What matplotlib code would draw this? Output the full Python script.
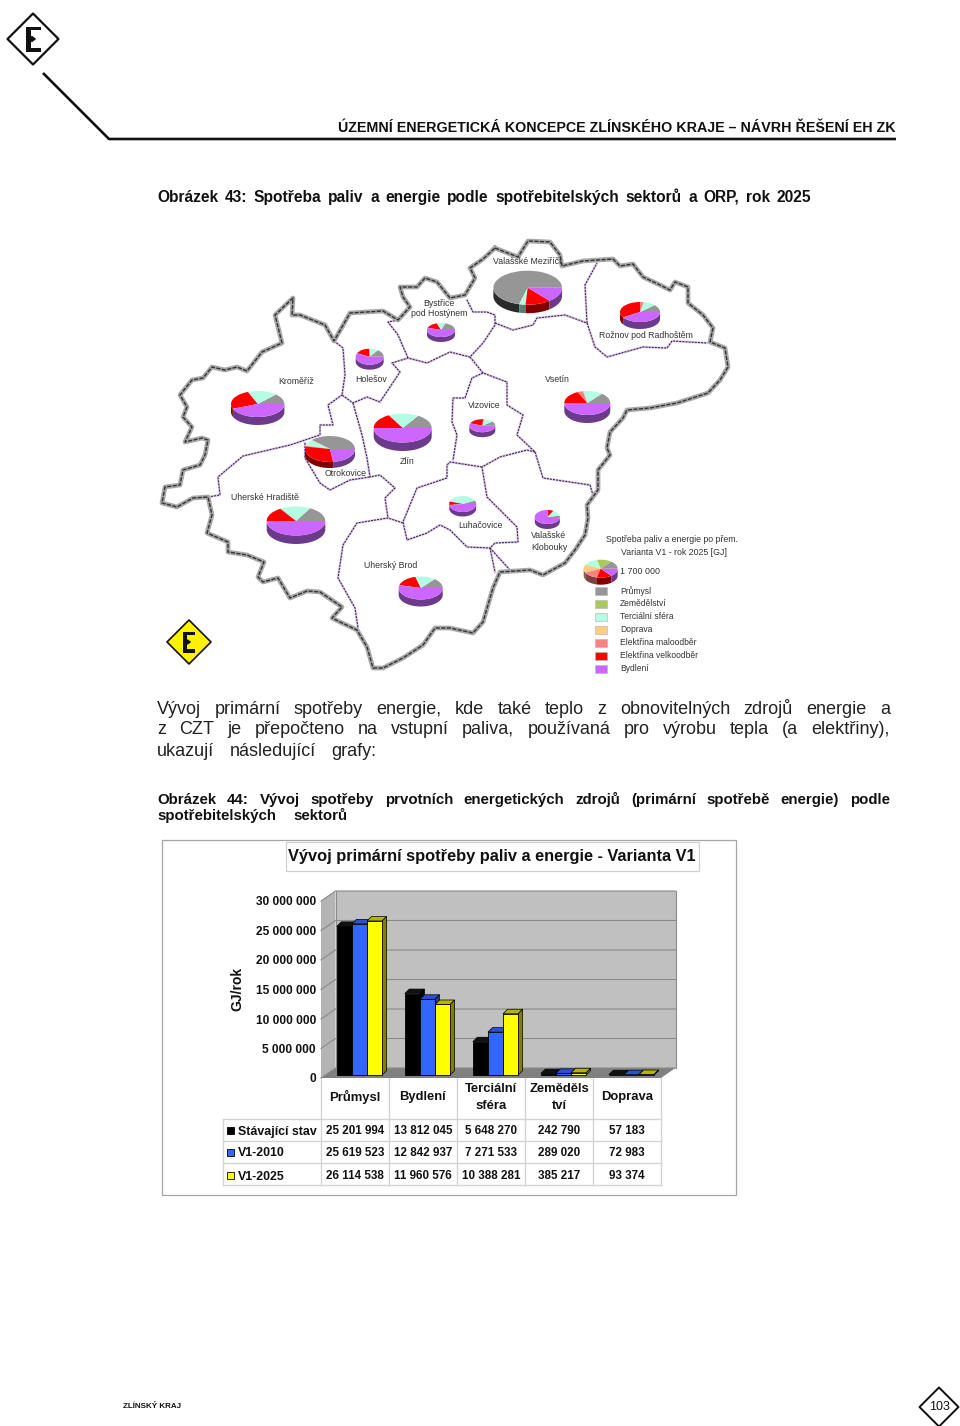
"""Strana 103 - mapa spotřeby a graf primární spotřeby, Varianta V1."""
import matplotlib
matplotlib.use("Agg")
import matplotlib.pyplot as plt
import matplotlib.patches as mpatches
from matplotlib.transforms import Affine2D
import numpy as np

plt.rcParams["font.family"] = ["Liberation Sans", "DejaVu Sans"]

# ---- data grafu
CATS = ["Průmysl", "Bydlení", "Terciální\nsféra", "Zeměděls\ntví", "Doprava"]
SERIES = ["Stávající stav", "V1-2010", "V1-2025"]
STAV = [25201994, 13812045, 5648270, 242790, 57183]
V2010 = [25619523, 12842937, 7271533, 289020, 72983]
V2025 = [26114538, 11960576, 10388281, 385217, 93374]
YTICKS = [0, 5000000, 10000000, 15000000, 20000000, 25000000, 30000000]
FRONT = ["#000000", "#3366FF", "#FFFF00"]
SIDE = ["#000000", "#1F3D99", "#808000"]
TOP = ["#111111", "#2A52CC", "#B5B500"]

# ---- data mapy: podíly v pořadí legendy
FUELS = ["Průmysl", "Zemědělství", "Terciální sféra", "Doprava",
         "Elektřina maloodběr", "Elektřina velkoodběr", "Bydlení"]
FUEL_COL = ["#969696", "#A9C95A", "#B4FCE4", "#FFCC80", "#FF8080", "#FF0000", "#CC66FF"]
FUEL_DARK = ["#2A2A2A", "#55652D", "#5A7E72", "#806640", "#804040", "#800000", "#6B3A8B"]
PIE_VM = [.71, 0, .03, 0, 0, .12, .14]
PIE_ROZNOV = [.12, 0, .10, 0, .03, .34, .41]
PIE_BYSTRICE = [.20, 0, .10, 0, 0, .15, .55]
PIE_HOLESOV = [.15, 0, .10, 0, .01, .17, .57]
PIE_KROMERIZ = [.13, 0, .18, 0, 0, .25, .44]
PIE_ZLIN = [.16, 0, .17, 0, 0, .17, .50]
PIE_VSETIN = [.14, 0, .14, 0, .04, .18, .50]
PIE_VIZOVICE = [.11, 0, .12, 0, .01, .20, .56]
PIE_OTROKOVICE = [.38, 0, .08, 0, .01, .30, .23]
PIE_UH = [.17, 0, .17, 0, 0, .16, .50]
PIE_LUHACOVICE = [.07, 0, .38, 0, 0, .07, .48]
PIE_KLOBOUKY = [.03, 0, .14, 0, 0, .07, .76]
PIE_UB = [.14, 0, .15, 0, 0, .17, .54]
PIE_LEG = [1, 1, 1, 1, 1, 1, 1]

OUTER = [(495, 248), (505, 252), (518, 257), (528, 241), (550, 242), (560, 255), (562, 266),
         (583, 261), (613, 259), (620, 266), (633, 264), (643, 277), (660, 285), (670, 290),
         (675, 282), (688, 287), (688, 303), (703, 315), (713, 328), (710, 342), (725, 348),
         (728, 367), (720, 380), (708, 393), (677, 403), (650, 408), (627, 410), (623, 418),
         (610, 432), (607, 448), (610, 455), (598, 470), (598, 490), (587, 505), (588, 518),
         (585, 535), (575, 550), (565, 563), (543, 575), (530, 570), (500, 572), (493, 588),
         (483, 622), (473, 633), (450, 628), (435, 628), (423, 645), (403, 658), (383, 668),
         (373, 668), (367, 647), (357, 630), (340, 622), (332, 618), (342, 607), (320, 592),
         (307, 591), (290, 598), (278, 578), (263, 582), (258, 577), (264, 562), (247, 555),
         (228, 552), (228, 542), (207, 533), (212, 515), (208, 497), (193, 498), (177, 507),
         (162, 503), (165, 487), (180, 485), (183, 470), (200, 465), (205, 455), (208, 440),
         (202, 438), (185, 442), (192, 427), (183, 417), (187, 407), (180, 395), (192, 380),
         (203, 378), (212, 367), (225, 370), (237, 367), (247, 371), (262, 352), (282, 343),
         (275, 315), (293, 298), (292, 315), (300, 315), (325, 325), (334, 341), (350, 313),
         (383, 311), (398, 320), (410, 307), (403, 297), (400, 287), (417, 287), (425, 278),
         (437, 282), (450, 298), (465, 295), (475, 278), (470, 268), (483, 259), (495, 248)]
INNER = [
    [(334, 341), (343, 348), (345, 375), (342, 395), (353, 403), (367, 397), (380, 402),
     (400, 372), (392, 363), (408, 358), (427, 363), (450, 352), (470, 357), (483, 343),
     (495, 325), (495, 315), (487, 312), (473, 312), (467, 300)],
    [(398, 320), (388, 322), (398, 335), (408, 358)],
    [(495, 323), (513, 330), (533, 325), (537, 318), (565, 315), (587, 323), (585, 285), (597, 263)],
    [(587, 323), (595, 347), (607, 357), (643, 347), (667, 348), (672, 341), (707, 343)],
    [(470, 357), (483, 373), (507, 382), (507, 405), (523, 415), (517, 435), (535, 452),
     (543, 478), (590, 485), (593, 495)],
    [(483, 373), (472, 378), (465, 398), (453, 398), (452, 422), (457, 435), (453, 460)],
    [(535, 452), (527, 450), (500, 457), (482, 467), (487, 497), (517, 527), (518, 542),
     (495, 543), (490, 548), (495, 572)],
    [(490, 548), (510, 570)],
    [(482, 467), (450, 462), (447, 465), (447, 478), (417, 488), (403, 522), (407, 540),
     (427, 533), (440, 525), (450, 530), (467, 547), (490, 548)],
    [(403, 523), (388, 518), (357, 523), (343, 545), (338, 578), (355, 608), (358, 628)],
    [(208, 497), (220, 495), (218, 477), (243, 456), (290, 445), (320, 435), (320, 425),
     (333, 425), (328, 405), (342, 395)],
    [(353, 403), (362, 435), (367, 458), (370, 477), (380, 475), (395, 488), (385, 498), (388, 518)],
    [(305, 443), (305, 458), (320, 483), (330, 490), (350, 480), (370, 477)],
]

# ---- stránka v pixelech
fig = plt.figure(figsize=(9.6, 14.26), dpi=100, facecolor="white")
ax = fig.add_axes([0, 0, 1, 1])
ax.set_xlim(0, 960); ax.set_ylim(1426, 0)
ax.axis("off")
rend = fig.canvas.get_renderer()

def justify(x0, x1, y, s, size, **kw):
    """Řádek zarovnaný do bloku po slovech, společná účaří."""
    base_y = y + 0.5 * size
    items = [ax.text(0, base_y, w, fontsize=size, va="baseline", ha="left", **kw) for w in s.split(" ")]
    widths = [t.get_window_extent(rend).width for t in items]
    gap = (x1 - x0 - sum(widths)) / max(len(items) - 1, 1)
    x = x0
    for t, w in zip(items, widths):
        t.set_x(x)
        x += w + gap

def fit(cx, y, s, width, size_max=20, **kw):
    """Text na středu, velikost podle zadané šířky."""
    t = ax.text(cx, y, s, fontsize=10, ha="center", va="center", **kw)
    w = t.get_window_extent(rend).width
    t.set_fontsize(min(10 * width / w, size_max))
    return t

def diamond(cx, cy, r, face, edge, lw):
    ax.add_patch(mpatches.Polygon([(cx, cy - r), (cx + r, cy), (cx, cy + r), (cx - r, cy)], facecolor=face,
                                  edgecolor=edge, lw=lw, joinstyle="round", zorder=3))

def logo_e(cx, cy, h):
    """Blokové E se značkou uprostřed."""
    wd, st = h * 0.6, h * 0.2
    left, top = cx - wd / 2, cy - h / 2
    ax.add_patch(mpatches.Rectangle((left, top), st, h, color="#111111", lw=0, zorder=4))
    ax.add_patch(mpatches.Rectangle((left, top), wd, h * 0.15, color="#111111", lw=0, zorder=4))
    ax.add_patch(mpatches.Rectangle((left, top + h * 0.85), wd, h * 0.15, color="#111111", lw=0, zorder=4))
    r = h * 0.13
    mx = left + st
    ax.add_patch(mpatches.Polygon([(mx - r, cy), (mx + r * .3, cy - r), (mx + r * 1.6, cy), (mx + r * .3, cy + r)],
                                  color="#111111", lw=0, zorder=4))

# hlavička a pata
diamond(33, 39, 25.5, "white", "#111111", 1.6)
logo_e(33.5, 39, 25)
ax.plot([43, 109, 896], [73, 139, 139], color="#111111", lw=1.9, solid_capstyle="butt")
t = ax.text(896, 128, "ÚZEMNÍ ENERGETICKÁ KONCEPCE ZLÍNSKÉHO KRAJE – NÁVRH ŘEŠENÍ EH ZK",
            ha="right", va="center", fontweight="bold", fontsize=10.5, color="#111111")
t.set_fontsize(10.5 * 556 / t.get_window_extent(rend).width + 0.03)
ax.text(123, 1406, "ZLÍNSKÝ KRAJ", fontsize=5.8, fontweight="bold", va="center", color="#111111")
diamond(939, 1407, 19.5, "white", "#111111", 1.4)
ax.text(939, 1407, "103", fontsize=9, ha="center", va="center", zorder=4, color="#111111")

# texty
justify(157, 811, 196, "Obrázek 43: Spotřeba paliv a energie podle spotřebitelských sektorů a ORP, rok 2025",
        11.2, fontweight="bold", color="#111111")
justify(157, 890, 707, "Vývoj primární spotřeby energie, kde také teplo z obnovitelných zdrojů energie a", 13, color="#222222")
justify(157, 890, 728, "z CZT je přepočteno na vstupní paliva, používaná pro výrobu tepla (a elektřiny),", 13, color="#222222")
justify(157, 376, 749, "ukazují následující grafy:", 13, color="#222222")
justify(157, 890, 799, "Obrázek 44: Vývoj spotřeby prvotních energetických zdrojů (primární spotřebě energie) podle",
        10.8, fontweight="bold", color="#111111")
justify(157, 347, 815, "spotřebitelských sektorů", 10.8, fontweight="bold", color="#111111")

# mapa
xs, ys = zip(*OUTER)
ax.plot(xs, ys, color="#A8A8A8", lw=3.4, solid_joinstyle="round", zorder=2)
ax.plot(xs, ys, color="#333333", lw=1.0, ls=(0, (3, 1)), zorder=2)
for line in INNER:
    xs, ys = zip(*line)
    ax.plot(xs, ys, color="#DCC0F0", lw=1.7, solid_joinstyle="round", zorder=1.5)
    ax.plot(xs, ys, color="#222222", lw=0.7, ls=(0, (2, 1.2)), zorder=1.6)

def pie3d(cx, cy, rx, ry, d, shares):
    shares = np.array(shares, dtype=float)
    edges = np.concatenate([[0], np.cumsum(shares / shares.sum()) * 360])
    for i in range(len(shares)):
        a, b = edges[i], edges[i + 1]
        lo, hi = max(a, 180), b
        if hi > lo:
            th = np.radians(np.linspace(lo, hi, 30))
            px = cx + rx * np.cos(th)
            py = cy - ry * np.sin(th)
            ax.fill(np.r_[px, px[::-1]], np.r_[py, py[::-1] + d], color=FUEL_DARK[i], lw=0, zorder=4)
        if b > a:
            ax.add_patch(mpatches.Wedge((0, 0), 1, a, b, facecolor=FUEL_COL[i], edgecolor="none",
                         transform=Affine2D().scale(rx, -ry).translate(cx, cy) + ax.transData, zorder=5))

pie3d(527.7, 287.7, 34.3, 17, 8.5, PIE_VM)
pie3d(640, 312, 20, 10, 7, PIE_ROZNOV)
pie3d(441, 330, 14, 7, 5, PIE_BYSTRICE)
pie3d(369.7, 356.7, 14, 8, 5, PIE_HOLESOV)
pie3d(257.7, 404, 26.7, 13, 8, PIE_KROMERIZ)
pie3d(402.7, 428, 29, 14.5, 8.5, PIE_ZLIN)
pie3d(587.3, 403, 23, 12, 8, PIE_VSETIN)
pie3d(482.3, 425.7, 13, 6.5, 5, PIE_VIZOVICE)
pie3d(330, 449, 25, 13, 6, PIE_OTROKOVICE)
pie3d(296, 521, 29.3, 14.5, 8.5, PIE_UH)
pie3d(462.7, 504, 13.5, 8, 4.5, PIE_LUHACOVICE)
pie3d(547.3, 517, 12.5, 7, 5, PIE_KLOBOUKY)
pie3d(420.7, 588, 22, 11.5, 7, PIE_UB)
pie3d(600.7, 568.7, 17, 9, 7, PIE_LEG)

MAP_LABELS = ["Valašské Meziříčí", "Bystřice", "pod Hostýnem", "Rožnov pod Radhoštěm", "Kroměříž", "Holešov",
              "Vsetín", "Vizovice", "Zlín", "Otrokovice", "Uherské Hradiště", "Luhačovice", "Valašské",
              "Klobouky", "Uherský Brod"]
LABEL_X = [527, 439, 439, 646, 296, 371, 557, 484, 407, 346, 265, 480, 549, 549, 391]
LABEL_Y = [262, 303, 313, 336, 381, 379, 379, 405, 462, 474, 497, 526, 536, 547, 565]
for s, x, y in zip(MAP_LABELS, LABEL_X, LABEL_Y):
    ax.text(x, y, s, fontsize=6.3, ha="center", va="center", color="#333333", zorder=6)

# legenda mapy
ax.text(671.7, 540, "Spotřeba paliv a energie po přem.", fontsize=6.3, ha="center", va="center", color="#333333")
ax.text(674, 552.7, "Varianta V1 - rok 2025 [GJ]", fontsize=6.3, ha="center", va="center", color="#333333")
ax.text(620, 571.7, "1 700 000", fontsize=6.4, va="center", color="#333333")
for i, (name, col) in enumerate(zip(FUELS, FUEL_COL)):
    yy = 591 + i * 12.95
    ax.add_patch(mpatches.Rectangle((595, yy - 4.2), 11.7, 8.4, facecolor=col, edgecolor="#BBBBBB", lw=0.5))
    ax.text(620, yy, name, fontsize=6.15, va="center", color="#333333")

# značka E v mapě
diamond(189, 642, 22, "#FFF200", "#111111", 1.2)
logo_e(189, 642, 21)

# rám grafu a titulek
ax.add_patch(mpatches.Rectangle((162, 839.5), 574, 355, facecolor="white", edgecolor="#A6A6A6", lw=0.9, zorder=0.5))
ax.add_patch(mpatches.Rectangle((286, 842), 413, 29, facecolor="white", edgecolor="#D0D0D0", lw=0.9, zorder=0.6))
fit(492, 857, "Vývoj primární spotřeby paliv a energie - Varianta V1", 408, fontweight="bold", color="#111111")
ax.text(237, 989, "GJ/rok", rotation=90, fontsize=10, fontweight="bold", ha="center", va="center", color="#111111")

# tabulka pod grafem
COL_EDGES = [321, 389, 457, 525, 593, 661]
for x in COL_EDGES:
    ax.plot([x, x], [1078, 1185], color="#D4D4D4", lw=1, zorder=0.8)
for y in [1119, 1141, 1163, 1185]:
    ax.plot([223, 661], [y, y], color="#D4D4D4", lw=1, zorder=0.8)
ax.plot([223, 223], [1119, 1185], color="#D4D4D4", lw=1, zorder=0.8)
CENTERS = [(a + b) / 2 for a, b in zip(COL_EDGES[:-1], COL_EDGES[1:])]
for cx, name in zip(CENTERS, CATS):
    for k, part in enumerate(name.split("\n")):
        yy = 1097 if "\n" not in name else 1089 + 17 * k
        ax.text(cx, yy, part, fontsize=9.4, fontweight="bold", ha="center", va="center", color="#111111")
ROW_Y = [1130, 1152, 1175]
for ry, row, label, col in zip(ROW_Y, [STAV, V2010, V2025], SERIES, FRONT):
    ax.add_patch(mpatches.Rectangle((227, ry - 3.5), 7, 7.5, facecolor=col, edgecolor="black", lw=0.6))
    ax.text(238, ry + 1.5, label, fontsize=8.9, fontweight="bold", va="center", color="#111111")
    for cx, v in zip(CENTERS, row):
        ax.text(cx, ry + 0.8, f"{v:,}".replace(",", " "), fontsize=8.4, fontweight="bold", ha="center",
                va="center", color="#111111")

# sloupcový graf v osách s hodnotami
ch = fig.add_axes([321 / 960, 1 - 1078 / 1426, 340 / 960, 177 / 1426])
ch.patch.set_alpha(0)
ch.set_xlim(-0.5, 4.5); ch.set_ylim(0, 30000000)
for s in ["top", "right", "bottom", "left"]:
    ch.spines[s].set_visible(False)
DX, DY = 14.5 / 68, 10 * 30000000 / 177
X0, X1 = -0.5, 4.5
TOP_Y = YTICKS[-1]
WALL = "#C0C0C0"
ch.fill([X0 + DX, X1 + DX, X1 + DX, X0 + DX], [DY, DY, TOP_Y + DY, TOP_Y + DY], color=WALL, lw=0, clip_on=False, zorder=1)
ch.fill([X0, X0 + DX, X0 + DX, X0], [0, DY, TOP_Y + DY, TOP_Y], color="#B4B4B4", lw=0, clip_on=False, zorder=1)
ch.fill([X0, X1, X1 + DX, X0 + DX], [0, 0, DY, DY], color="#808080", lw=0, clip_on=False, zorder=1)
for v in YTICKS:
    ch.plot([X0, X0 + DX, X1 + DX], [v, v + DY, v + DY], color="#8A8A8A", lw=0.8, clip_on=False, zorder=1.5)
ch.plot([X0 + DX, X0 + DX], [DY, TOP_Y + DY], color="#8A8A8A", lw=0.8, clip_on=False, zorder=1.5)
ch.plot([X1 + DX, X1 + DX], [DY, TOP_Y + DY], color="#8A8A8A", lw=0.8, clip_on=False, zorder=1.5)

w = 0.222
base = 500000
shift = 0.066
dx, dy = 4.5 / 68, 4.5 * 30000000 / 177
for j, vals in enumerate([STAV, V2010, V2025]):
    pos = np.arange(5) + shift + (j - 1) * w
    ch.bar(pos, vals, width=w, bottom=base, color=FRONT[j], edgecolor="black", linewidth=0.6, zorder=3 + j)
    for p, v in zip(pos, vals):
        top = base + v
        ch.fill([p - w / 2, p + w / 2, p + w / 2 + dx, p - w / 2 + dx], [top, top, top + dy, top + dy],
                facecolor=TOP[j], edgecolor="black", lw=0.5, zorder=2.9 + j)
        ch.fill([p + w / 2, p + w / 2 + dx, p + w / 2 + dx, p + w / 2], [base, base + dy, top + dy, top],
                facecolor=SIDE[j], edgecolor="black", lw=0.5, zorder=2.9 + j)

ch.set_xticks([])
ch.set_yticks(YTICKS)
ch.set_yticklabels([f"{v:,}".replace(",", " ") for v in YTICKS], fontsize=8.6, fontweight="bold", color="#111111")
ch.tick_params(axis="y", length=0, pad=3.6)

fig.savefig("out.png", dpi=100)
